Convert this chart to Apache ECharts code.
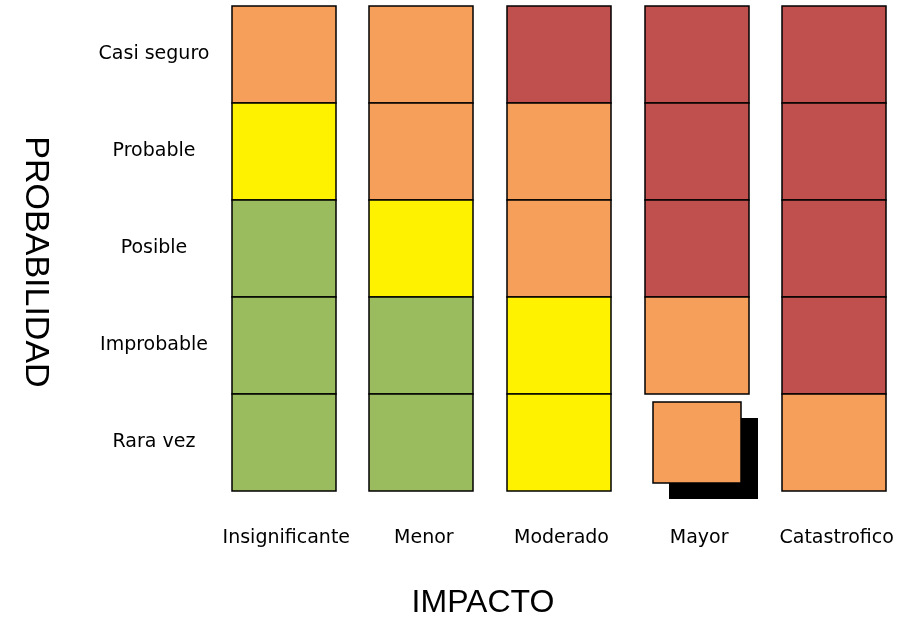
<!DOCTYPE html>
<html>
<head>
<meta charset="utf-8">
<title>Matriz de riesgo</title>
<script src="https://cdn.jsdelivr.net/npm/echarts@6/dist/echarts.min.js"></script>
<style>
  html, body { margin: 0; padding: 0; background: #ffffff; }
  #chart { width: 909px; height: 620px; }
</style>
</head>
<body>
<div id="chart"></div>
<script>
// Impact categories (x axis) and probability categories (y axis, top to bottom)
const impacts = ['Insignificante', 'Menor', 'Moderado', 'Mayor', 'Catastrofico'];
const probabilities = ['Casi seguro', 'Probable', 'Posible', 'Improbable', 'Rara vez'];

// Risk level per row (same order as probabilities), one entry per impact column
// 1 = bajo, 2 = medio, 3 = alto, 4 = extremo
const rowCasiSeguro = [3, 3, 4, 4, 4];
const rowProbable   = [2, 3, 3, 4, 4];
const rowPosible    = [1, 2, 3, 4, 4];
const rowImprobable = [1, 1, 2, 3, 4];
const rowRaraVez    = [1, 1, 2, 3, 3];
const riskRows = [rowCasiSeguro, rowProbable, rowPosible, rowImprobable, rowRaraVez];

// Fill colour for each risk level
const levelColors = { 1: '#9BBB5F', 2: '#FFF200', 3: '#F59F5A', 4: '#C0504D' };

// Highlighted cell: [impact index, probability index]
const highlighted = [3, 4];

const cells = [];
riskRows.forEach((row, r) => {
  row.forEach((level, c) => {
    const hi = (c === highlighted[0] && r === highlighted[1]) ? 1 : 0;
    cells.push([c, r, level, hi]);
  });
});

const LABEL_FONT = 'DejaVu Sans';
const TITLE_FONT = 'Liberation Sans';
const chart = echarts.init(document.getElementById('chart'), null, { renderer: 'canvas' });

chart.setOption({
  backgroundColor: '#ffffff',
  animation: false,
  grid: { left: 215, right: 6, top: 6, bottom: 129, outerBoundsMode: 'none', containLabel: false },
  xAxis: {
    type: 'category',
    data: impacts,
    axisLine: { show: false },
    axisTick: { show: false },
    splitLine: { show: false },
    axisLabel: {
      interval: 0,
      color: '#000', fontFamily: LABEL_FONT, fontSize: 19,
      margin: 38, verticalAlign: 'top', padding: [0, 0, 0, 5]
    }
  },
  yAxis: {
    type: 'category',
    data: probabilities,
    inverse: true,
    axisLine: { show: false },
    axisTick: { show: false },
    splitLine: { show: false },
    axisLabel: {
      interval: 0,
      color: '#000', fontFamily: LABEL_FONT, fontSize: 19,
      margin: 61, align: 'center'
    }
  },
  graphic: [
    {
      type: 'text',
      x: 483, y: 603,
      style: {
        text: 'IMPACTO', fill: '#000',
        font: '32px "' + TITLE_FONT + '"',
        textAlign: 'center', textVerticalAlign: 'middle'
      }
    },
    {
      type: 'text',
      x: 35, y: 262,
      rotation: -Math.PI / 2,
      style: {
        text: 'PROBABILIDAD', fill: '#000',
        font: '34px "' + TITLE_FONT + '"',
        textAlign: 'center', textVerticalAlign: 'middle'
      }
    }
  ],
  series: [{
    type: 'custom',
    data: cells,
    encode: { x: 0, y: 1 },
    renderItem: function (params, api) {
      const center = api.coord([api.value(0), api.value(1)]);
      const band = api.size([1, 1]);
      const w = Math.round(band[0] * 0.756);
      const h = Math.round(band[1]);
      const x = Math.round(center[0] - w / 2);
      const y = Math.round(center[1] - h / 2);
      const fill = levelColors[api.value(2)];
      if (api.value(3) === 1) {
        // emphasised cell: inset box with a solid offset drop shadow
        const inset = 8, off = 16;
        return {
          type: 'group',
          z2: 10,
          children: [
            {
              type: 'rect',
              shape: { x: x + inset + off, y: y + inset + off, width: w - 2 * inset + 1, height: h - 2 * inset },
              style: { fill: '#000' }
            },
            {
              type: 'rect',
              shape: { x: x + inset, y: y + inset, width: w - 2 * inset, height: h - 2 * inset },
              style: { fill: fill, stroke: '#000', lineWidth: 1.5 }
            }
          ]
        };
      }
      return {
        type: 'rect',
        z2: 1,
        shape: { x: x, y: y, width: w, height: h },
        style: { fill: fill, stroke: '#000', lineWidth: 1.5 }
      };
    }
  }]
});
</script>
</body>
</html>
